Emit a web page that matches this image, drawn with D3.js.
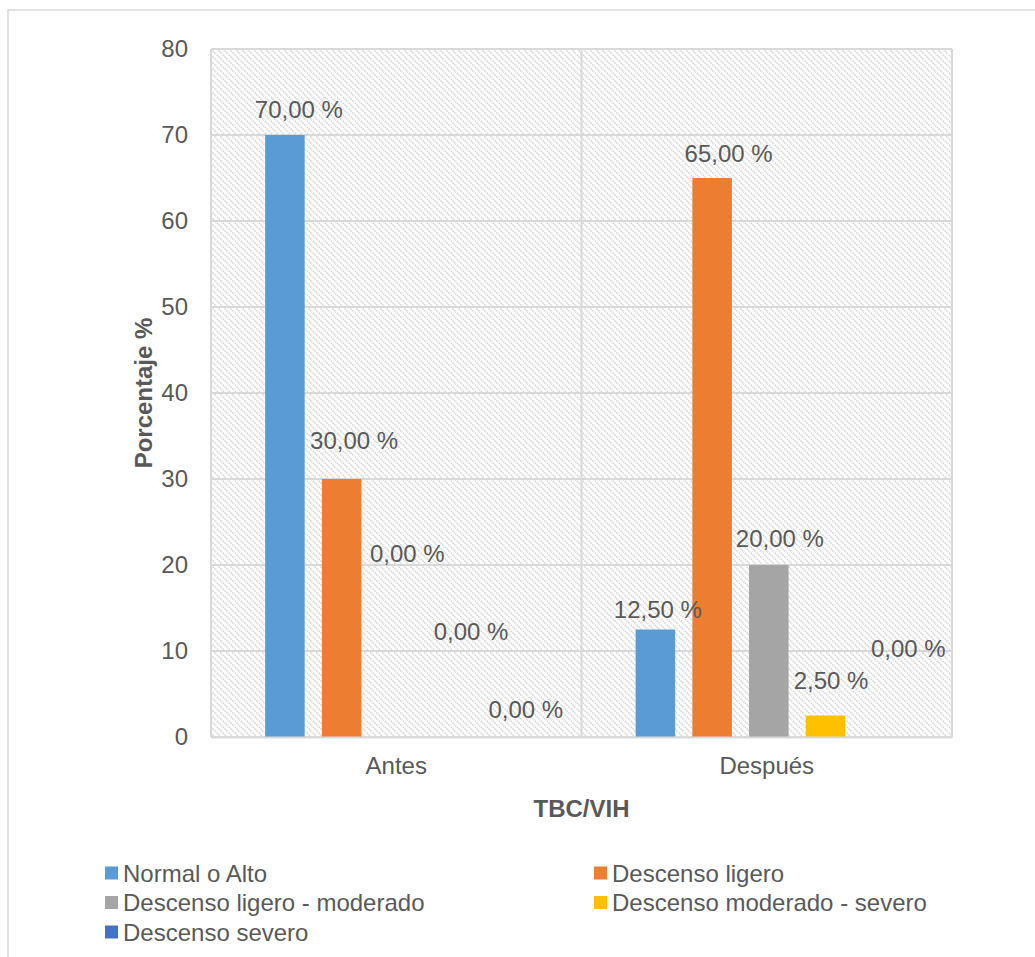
<!DOCTYPE html>
<html>
<head>
<meta charset="utf-8">
<script src="https://cdn.jsdelivr.net/npm/d3@7"></script>
<style>
  html, body { margin: 0; padding: 0; background: #fff; }
  svg { display: block; font-family: "Liberation Sans", Arial, sans-serif; }
</style>
</head>
<body>
<svg id="chart" width="1035" height="957"></svg>
<script>
// Chart data
const categories = ["Antes", "Después"];
const seriesNames = ["Normal o Alto", "Descenso ligero", "Descenso ligero - moderado",
                     "Descenso moderado - severo", "Descenso severo"];
const antesValues   = [70, 30, 0, 0, 0];
const despuesValues = [12.5, 65, 20, 2.5, 0];
const yTicks = [0, 10, 20, 30, 40, 50, 60, 70, 80];

// Series colours
const seriesColors = ["#5B9BD5", "#ED7D31", "#A5A5A5", "#FFC000", "#4472C4"];

// Hand-placed data label nudges (dx from bar centre, dy from bar top), per category
const labelNudges = [
  [[14, -17], [12.5, -30], [9, -175], [16, -97], [14, -19]],
  [[2.5, -11.5], [16.5, -16], [11, -18], [5.5, -26.5], [26, -80]]
];

const valuesByCategory = [antesValues, despuesValues];
const fmt = v => v.toFixed(2).replace(".", ",") + " %";
const textColor = "#595959";
const gridColor = "#d9d9d9";

const svg = d3.select("#chart");
const plot = { left: 211, right: 952, top: 49, bottom: 737 };

// Outer chart frame (extends past the viewport)
svg.append("rect")
  .attr("x", 8).attr("y", 10).attr("width", 1200).attr("height", 1200)
  .attr("fill", "#fff").attr("stroke", gridColor).attr("stroke-width", 1.5);

// Diagonal hatch fill for the plot area
const defs = svg.append("defs");
const pat = defs.append("pattern")
  .attr("id", "hatch").attr("patternUnits", "userSpaceOnUse")
  .attr("width", 6).attr("height", 6);
pat.append("rect").attr("width", 6).attr("height", 6).attr("fill", "#fff");
pat.append("path")
  .attr("d", "M-1,-1 L7,7 M-1,5 L1,7 M5,-1 L7,1")
  .attr("stroke", "#d4d4d4").attr("stroke-width", 1.5)
  .attr("stroke-dasharray", "1.6,0.9");

const x = d3.scaleBand().domain(categories).range([plot.left, plot.right]);
const xs = d3.scaleBand().domain(seriesNames).range([0, x.bandwidth()])
  .paddingInner(0.303).paddingOuter(0.918).align(0.52);
const y = d3.scaleLinear().domain([0, 80]).range([plot.bottom, plot.top]);

svg.append("rect")
  .attr("x", plot.left).attr("y", plot.top)
  .attr("width", plot.right - plot.left).attr("height", plot.bottom - plot.top)
  .attr("fill", "url(#hatch)");

// Horizontal gridlines
svg.append("g").selectAll("line").data(yTicks).join("line")
  .attr("x1", plot.left).attr("x2", plot.right)
  .attr("y1", d => y(d)).attr("y2", d => y(d))
  .attr("stroke", gridColor).attr("stroke-width", 2);

// Vertical category gridlines
const vLines = categories.map(c => x(c)).concat([plot.right]);
svg.append("g").selectAll("line").data(vLines).join("line")
  .attr("x1", d => d).attr("x2", d => d)
  .attr("y1", plot.top).attr("y2", plot.bottom)
  .attr("stroke", gridColor).attr("stroke-width", 2);

// Bars
const groups = svg.append("g").selectAll("g").data(categories).join("g")
  .attr("transform", c => `translate(${x(c)},0)`);

groups.each(function(c, ci) {
  const g = d3.select(this);
  const vals = valuesByCategory[ci];
  g.selectAll("rect").data(vals).join("rect")
    .attr("x", (d, i) => xs(seriesNames[i]))
    .attr("width", xs.bandwidth())
    .attr("y", d => y(d))
    .attr("height", d => y(0) - y(d))
    .attr("fill", (d, i) => seriesColors[i]);
  g.selectAll("text").data(vals).join("text")
    .attr("x", (d, i) => xs(seriesNames[i]) + xs.bandwidth() / 2 + labelNudges[ci][i][0])
    .attr("y", (d, i) => y(d) + labelNudges[ci][i][1])
    .attr("text-anchor", "middle")
    .attr("font-size", 24).attr("fill", textColor)
    .text(d => fmt(d));
});

// Y axis
const yAxis = svg.append("g")
  .attr("transform", `translate(${plot.left},0)`)
  .call(d3.axisLeft(y).tickValues(yTicks).tickSize(0).tickPadding(23));
yAxis.select(".domain").remove();
yAxis.selectAll("text").attr("font-size", 24).attr("fill", textColor)
  .attr("font-family", "Liberation Sans, Arial, sans-serif");

// X axis
const xAxis = svg.append("g")
  .attr("transform", `translate(0,${plot.bottom})`)
  .call(d3.axisBottom(x).tickSize(0).tickPadding(20));
xAxis.select(".domain").attr("stroke", gridColor).attr("stroke-width", 2);
xAxis.selectAll("text").attr("font-size", 24).attr("fill", textColor)
  .attr("font-family", "Liberation Sans, Arial, sans-serif");

// Axis titles
svg.append("text")
  .attr("transform", `translate(152,${(plot.top + plot.bottom) / 2}) rotate(-90)`)
  .attr("text-anchor", "middle").attr("font-size", 24).attr("font-weight", "bold")
  .attr("fill", textColor).text("Porcentaje %");

svg.append("text")
  .attr("x", (plot.left + plot.right) / 2).attr("y", 817)
  .attr("text-anchor", "middle").attr("font-size", 24).attr("font-weight", "bold")
  .attr("fill", textColor).text("TBC/VIH");

// Legend
const legendCols = [105, 594];
const legendRows = [873, 902.5, 932];
const legend = svg.append("g").selectAll("g").data(seriesNames).join("g")
  .attr("transform", (d, i) => `translate(${legendCols[i % 2]},${legendRows[Math.floor(i / 2)]})`);
legend.append("rect")
  .attr("x", 0).attr("y", -6.5).attr("width", 13).attr("height", 13)
  .attr("fill", (d, i) => seriesColors[i]);
legend.append("text")
  .attr("x", 18).attr("y", 8.5)
  .attr("font-size", 24).attr("fill", textColor)
  .text(d => d);
</script>
</body>
</html>
